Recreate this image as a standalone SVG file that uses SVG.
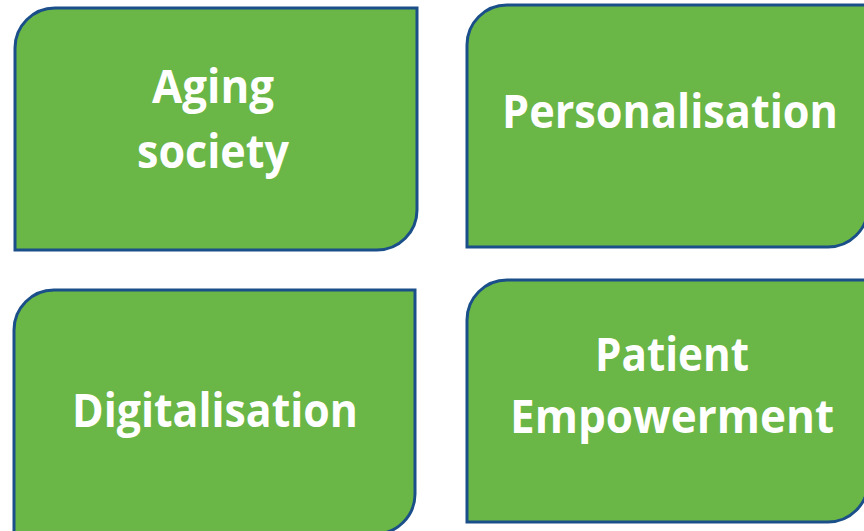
<svg xmlns="http://www.w3.org/2000/svg" width="864" height="531" viewBox="0 0 864 531">
<style>
.box{fill:#6AB646;stroke:#1B4F8A;stroke-width:3}
.t{font-family:"Open Sans","Liberation Sans",sans-serif;font-weight:bold;font-size:46px;fill:#FFFFFF;text-anchor:middle}
</style>
<rect width="864" height="531" fill="#FFFFFF"/>
<g id="aging">
<path class="box" d="M15,48 A40,40 0 0 1 55,8 H417 V210 A40,40 0 0 1 377,250 H15 Z"/>
<text class="t" x="213" y="103" textLength="122" lengthAdjust="spacingAndGlyphs">Aging</text>
<text class="t" x="213" y="168" textLength="152" lengthAdjust="spacingAndGlyphs">society</text>
</g>
<g id="personalisation">
<path class="box" d="M467,45 A40,40 0 0 1 507,5 H868 V207 A40,40 0 0 1 828,247 H467 Z"/>
<text class="t" x="670" y="128" textLength="336" lengthAdjust="spacingAndGlyphs">Personalisation</text>
</g>
<g id="digitalisation">
<path class="box" d="M14,330 A40,40 0 0 1 54,290 H415 V494 A40,40 0 0 1 375,534 H14 Z"/>
<text class="t" x="215" y="427" textLength="286" lengthAdjust="spacingAndGlyphs">Digitalisation</text>
</g>
<g id="empowerment">
<path class="box" d="M467,320 A40,40 0 0 1 507,280 H868 V482 A40,40 0 0 1 828,522 H467 Z"/>
<text class="t" x="672" y="371" textLength="154" lengthAdjust="spacingAndGlyphs">Patient</text>
<text class="t" x="672" y="433" textLength="324" lengthAdjust="spacingAndGlyphs">Empowerment</text>
</g>
<g id="connectors"/>
</svg>
